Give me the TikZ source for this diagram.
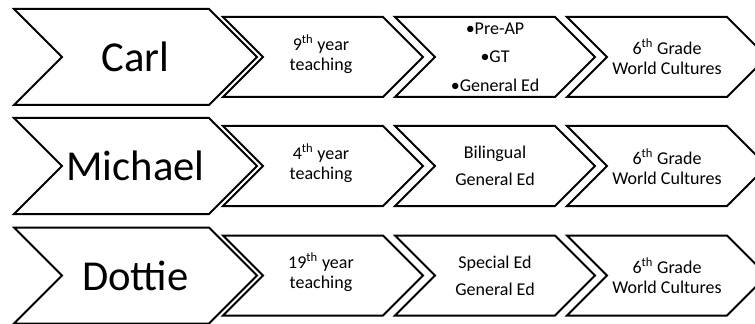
\documentclass[tikz,border=0pt]{standalone}
\usepackage{fontspec}
\setmainfont{Carlito}
\usetikzlibrary{calc}

% chevron: left x, centre y, width, half height
\newcommand{\chev}[4]{%
  \draw[chevline] (#1,#2+#4) -- ++(#3-#4,0) -- ++(#4,-#4) -- ++(-#4,-#4)
    -- ++(-#3+#4,0) -- ++(#4,#4) -- cycle;
}

\begin{document}
\begin{tikzpicture}[x=0.75pt, y=0.75pt,
    chevline/.style={draw=black, line width=1.5pt, line join=miter},
    who/.style={inner sep=0pt, font=\fontsize{32}{36}\selectfont},
    info/.style={align=center, inner sep=0pt, font=\fontsize{13.5}{14.8}\selectfont},
    spread/.style={align=center, inner sep=0pt, font=\fontsize{13.5}{20.3}\selectfont},
    bullets/.style={align=center, inner sep=0pt, font=\fontsize{13.5}{21.4}\selectfont}]
  \clip (0,0) rectangle (755,-324);

  % Carl
  \chev{14}{-57}{243}{48}
  \chev{223}{-57}{200}{40}
  \chev{395}{-57}{200}{40}
  \chev{567}{-57}{200}{40}
  \node[who] (c0) at (135.5,-57) {Carl};
  \node[info] (c1) at (321,-54) {9\textsuperscript{th} year\\teaching};
  \node[bullets] (c2) at (495,-57) {\textbullet Pre-AP\\\textbullet GT\\\textbullet General Ed};
  \node[info] (c3) at (667,-57) {6\textsuperscript{th} Grade\\World Cultures};

  % Michael
  \chev{14}{-166}{243}{48}
  \chev{223}{-166}{200}{40}
  \chev{395}{-166}{200}{40}
  \chev{567}{-166}{200}{40}
  \node[who] (m0) at (135.5,-166) {Michael};
  \node[info] (m1) at (321,-163) {4\textsuperscript{th} year\\teaching};
  \node[spread] (m2) at (495,-166) {Bilingual\\General Ed};
  \node[info] (m3) at (667,-167) {6\textsuperscript{th} Grade\\World Cultures};

  % Dottie
  \chev{14}{-275.5}{243}{48}
  \chev{223}{-275.5}{200}{40}
  \chev{395}{-275.5}{200}{40}
  \chev{567}{-275.5}{200}{40}
  \node[who] (d0) at (135.5,-275.5) {Dottie};
  \node[info] (d1) at (321,-272) {19\textsuperscript{th} year\\teaching};
  \node[spread] (d2) at (495,-275.5) {Special Ed\\General Ed};
  \node[info] (d3) at (667,-276) {6\textsuperscript{th} Grade\\World Cultures};
\end{tikzpicture}
\end{document}
